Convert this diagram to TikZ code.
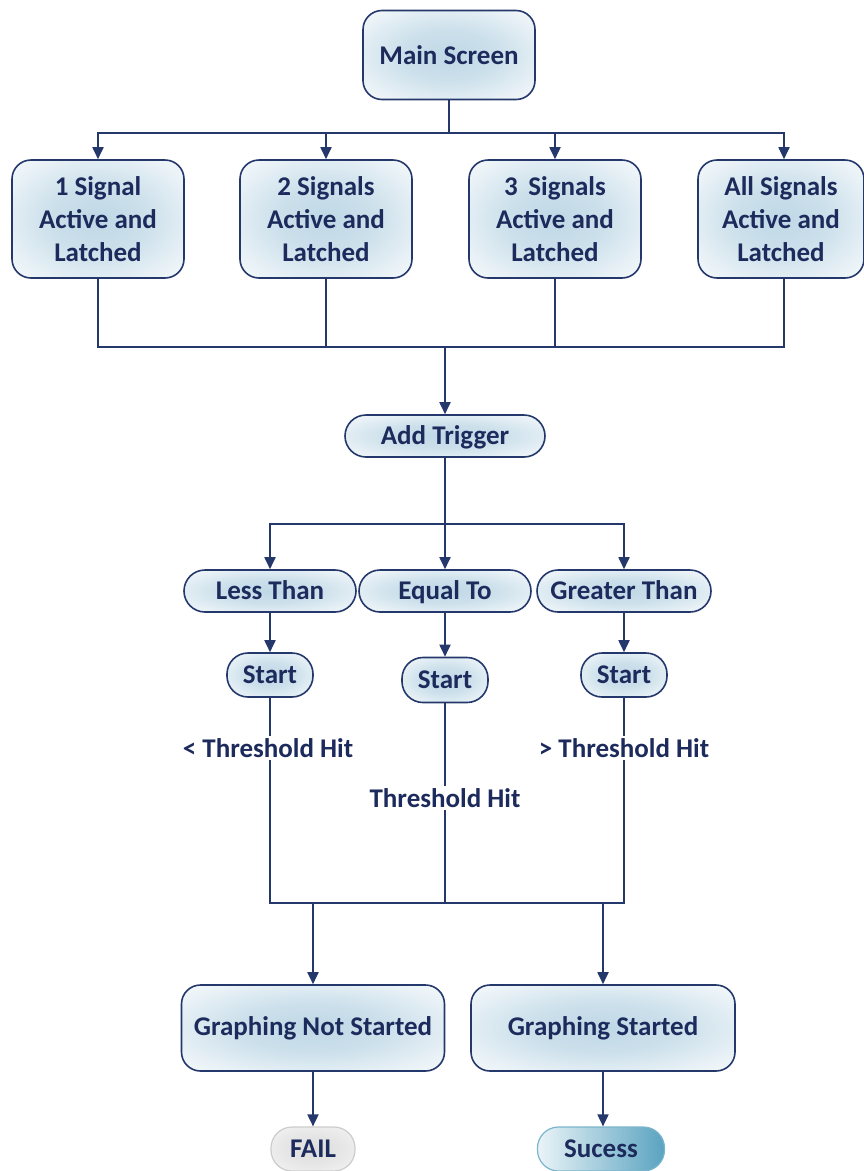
\documentclass[tikz,border=0pt]{standalone}
\usepackage{fontspec}
\setmainfont{Carlito}
\usetikzlibrary{arrows.meta}
\definecolor{navy}{HTML}{24386B}
\definecolor{ink}{HTML}{1C2A5C}
\definecolor{paleblue}{HTML}{BFD8E6}
\definecolor{tealdark}{HTML}{5AA3C0}
\definecolor{tealpale}{HTML}{EAF4F8}
% soft glow: blue centre fading to white near the border
\pgfdeclareradialshading{glow}{\pgfpoint{0bp}{0bp}}{%
  color(0bp)=(paleblue); color(14bp)=(paleblue!80!white);
  color(30bp)=(paleblue!30!white); color(42bp)=(white); color(50bp)=(white)}
\pgfdeclareradialshading{greyglow}{\pgfpoint{0bp}{0bp}}{%
  color(0bp)=(gray!28); color(20bp)=(gray!18); color(38bp)=(gray!7);
  color(50bp)=(gray!4)}
\begin{document}
\begin{tikzpicture}[x=1pt,y=-1pt,
  font=\fontsize{27}{33}\selectfont\bfseries,
  box/.style={draw=navy,line width=1.6pt,rounded corners=19pt,
    shading=glow,text=ink,align=center,
    minimum width=172pt,minimum height=89pt,inner sep=0pt},
  pill/.style={draw=navy,line width=1.6pt,rounded corners=21pt,
    shading=glow,text=ink,text height=18pt,text depth=2pt,
    minimum width=172pt,minimum height=42pt,inner sep=0pt},
  wire/.style={draw=navy,line width=1.8pt},
  arr/.style={wire,-{Triangle[width=11pt,length=12pt]}},
  lbl/.style={fill=white,text=ink,inner sep=2pt}]
\useasboundingbox (0,0) rectangle (863,1171);

% top level
\node[box] (main) at (449,55) {Main Screen};
\node[box,minimum height=118pt] (b1) at (98,219) {1 Signal\\Active and\\Latched};
\node[box,minimum height=118pt] (b2) at (326,219) {2 Signals\\Active and\\Latched};
\node[box,minimum height=118pt] (b3) at (555,219) {3\, Signals\\Active and\\Latched};
\node[box,minimum height=118pt,minimum width=166pt] (b4) at (781,219) {All Signals\\Active and\\Latched};

\coordinate (top) at (449,133);
\draw[wire] (main.south) -- (top);
\draw[arr] (top) -| (b1.north);
\draw[arr] (top) -| (b2.north);
\draw[arr] (top) -| (b3.north);
\draw[arr] (top) -| ([xshift=3pt]b4.north);

% merge into Add Trigger
\node[pill,minimum width=200pt] (trig) at (445,436) {Add Trigger};
\coordinate (mid) at (445,347);
\draw[wire] (b1.south) |- (mid);
\draw[wire] ([xshift=3pt]b4.south) |- (mid);
\draw[wire] (b2.south) -- (b2.south |- mid);
\draw[wire] (b3.south) -- (b3.south |- mid);
\draw[arr] (mid) -- (trig.north);

% comparison choices
\node[pill] (lt) at (270,591) {Less Than};
\node[pill] (eq) at (445,591) {Equal To};
\node[pill,minimum width=174pt] (gt) at (624,591) {Greater Than};
\coordinate (split) at (445,524);
\draw[wire] (trig.south) -- (split);
\draw[arr] (split) -| (lt.north);
\draw[arr] (split) -- (eq.north);
\draw[arr] (split) -| (gt.north);

% start nodes
\node[pill,minimum width=86pt,minimum height=44pt] (s1) at (270,675) {Start};
\node[pill,minimum width=86pt,minimum height=45pt] (s2) at (445,680) {Start};
\node[pill,minimum width=86pt,minimum height=44pt] (s3) at (624,675) {Start};
\draw[arr] (lt.south) -- (s1.north);
\draw[arr] (eq.south) -- (s2.north);
\draw[arr] (gt.south) -- (s3.north);

% results
\node[box,minimum width=263pt,minimum height=86pt] (gns) at (313,1028) {Graphing Not Started};
\node[box,minimum width=264pt,minimum height=86pt] (gs) at (603,1028) {Graphing Started};
\coordinate (low) at (445,903);
\coordinate (lowL) at (313,903);
\coordinate (lowR) at (603,903);
\draw[wire] (s1.south) |- (low);
\draw[wire] (s3.south) |- (low);
\draw[wire] (s2.south) -- (low);
\draw[arr] (lowL) -- (gns.north);
\draw[arr] (lowR) -- (gs.north);

% threshold labels over the wires
\node[lbl] (t1) at (268,748) {< Threshold Hit};
\node[lbl] (t2) at (445,798) {Threshold Hit};
\node[lbl] (t3) at (624,748) {> Threshold Hit};

% outcomes
\node[draw=gray!40,line width=1.2pt,rounded corners=21pt,shading=greyglow,
  text=ink,text height=18pt,text depth=2pt,minimum width=84pt,minimum height=44pt,inner sep=0pt]
  (fail) at (313,1149) {FAIL};
\node[draw=tealdark!80,line width=1.2pt,rounded corners=21pt,left color=tealpale,
  right color=tealdark,text=ink,text height=18pt,text depth=2pt,
  minimum width=127pt,minimum height=44pt,inner sep=0pt]
  (ok) at (601,1149) {Sucess};
\draw[arr] (gns.south) -- (fail.north);
\draw[arr] (gs.south) -- (gs.south |- ok.north);
\end{tikzpicture}
\end{document}
